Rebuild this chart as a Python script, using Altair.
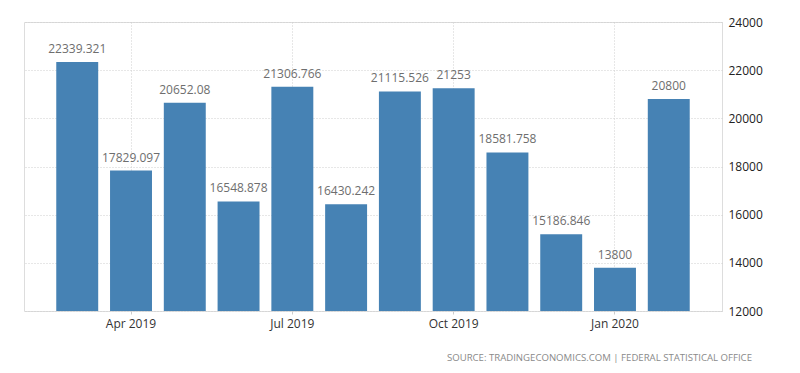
import altair as alt
import pandas as pd

months = ["Mar 2019", "Apr 2019", "May 2019", "Jun 2019", "Jul 2019", "Aug 2019",
          "Sep 2019", "Oct 2019", "Nov 2019", "Dec 2019", "Jan 2020", "Feb 2020"]
values = [22339.321, 17829.097, 20652.08, 16548.878, 21306.766, 16430.242,
          21115.526, 21253, 18581.758, 15186.846, 13800, 20800]
labels = ["22339.321", "17829.097", "20652.08", "16548.878", "21306.766", "16430.242",
          "21115.526", "21253", "18581.758", "15186.846", "13800", "20800"]
x_ticks = ["Apr 2019", "Jul 2019", "Oct 2019", "Jan 2020"]
y_ticks = [12000, 14000, 16000, 18000, 20000, 22000, 24000]
source = "SOURCE:  TRADINGECONOMICS.COM  |  FEDERAL  STATISTICAL  OFFICE"

df = pd.DataFrame({"month": months, "value": values, "label": labels})

FONT = "Open Sans"

x = alt.X("month:N", sort=months, title=None,
          scale=alt.Scale(paddingInner=0.22, paddingOuter=0.6),
          axis=alt.Axis(values=x_ticks, labelAngle=0, labelFontSize=12, labelFont=FONT,
                        labelColor="#333333", grid=True, gridDash=[1, 2], gridColor="#cfcfcf",
                        domain=False, ticks=True, tickSize=3, tickColor="#cccccc",
                        bandPosition=0.5, labelPadding=4))
y = alt.Y("value:Q", title=None,
          scale=alt.Scale(domain=[12000, 24000], zero=False, nice=False),
          axis=alt.Axis(orient="right", values=y_ticks, format="d", labelFontSize=12,
                        labelFont=FONT, labelColor="#222222", grid=True, gridDash=[1, 2],
                        gridColor="#cfcfcf", domain=False, ticks=False, labelPadding=6))

bars = alt.Chart(df).mark_bar(color="#4682b4").encode(
    x=x, y=y, y2=alt.Y2(datum=12000)
)
text = alt.Chart(df).mark_text(baseline="alphabetic", dy=-9, fontSize=12, font=FONT,
                               color="#6e6e6e").encode(
    x=alt.X("month:N", sort=months), y="value:Q", text="label:N"
)

chart = alt.layer(bars, text).properties(
    width=698, height=289,
    padding={"left": 16, "top": 8, "right": 5, "bottom": 2},
    title=alt.TitleParams(source, orient="bottom", anchor="end", frame="group", dx=30,
                          offset=24, fontSize=9.6, font=FONT, fontWeight="normal",
                          color="#8a8a8a"),
).configure_view(stroke=None).configure(background="white")

chart.save("out.html", embed_options={"renderer": "svg", "actions": False})
